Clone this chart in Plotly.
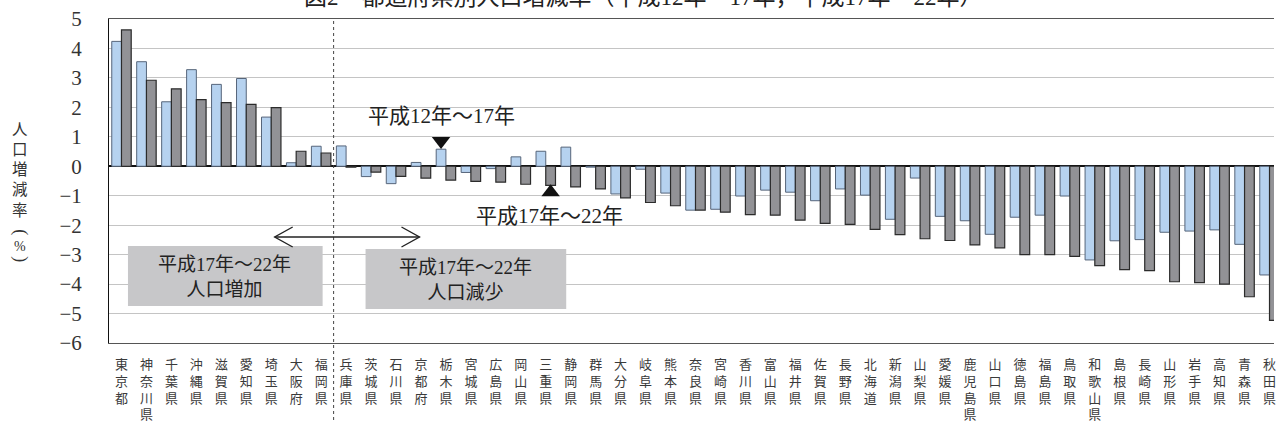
import plotly.graph_objects as go

# ---------------- data ----------------
prefectures = ["東京都", "神奈川県", "千葉県", "沖縄県", "滋賀県", "愛知県", "埼玉県", "大阪府", "福岡県",
               "兵庫県", "茨城県", "石川県", "京都府", "栃木県", "宮城県", "広島県", "岡山県", "三重県",
               "静岡県", "群馬県", "大分県", "岐阜県", "熊本県", "奈良県", "宮崎県", "香川県", "富山県",
               "福井県", "佐賀県", "長野県", "北海道", "新潟県", "山梨県", "愛媛県", "鹿児島県", "山口県",
               "徳島県", "福島県", "鳥取県", "和歌山県", "島根県", "長崎県", "山形県", "岩手県", "高知県",
               "青森県", "秋田県"]

rate_h12_17 = [4.24, 3.55, 2.19, 3.28, 2.78, 2.98, 1.67, 0.12, 0.68,
               0.69, -0.35, -0.59, 0.13, 0.58, -0.21, -0.08, 0.32, 0.51,
               0.65, -0.03, -0.94, -0.10, -0.91, -1.49, -1.46, -1.01, -0.81,
               -0.88, -1.17, -0.77, -0.98, -1.80, -0.40, -1.70, -1.85, -2.31,
               -1.73, -1.66, -1.01, -3.18, -2.53, -2.49, -2.24, -2.20, -2.16,
               -2.65, -3.69]

rate_h17_22 = [4.63, 2.92, 2.63, 2.26, 2.16, 2.10, 1.99, 0.51, 0.45,
               -0.03, -0.20, -0.34, -0.40, -0.47, -0.51, -0.54, -0.61, -0.65,
               -0.70, -0.77, -1.07, -1.23, -1.34, -1.49, -1.56, -1.64, -1.66,
               -1.83, -1.94, -1.97, -2.14, -2.32, -2.46, -2.52, -2.67, -2.77,
               -3.00, -3.00, -3.06, -3.37, -3.51, -3.54, -3.92, -3.95, -4.00,
               -4.43, -5.23]

y_ticks = [-6, -5, -4, -3, -2, -1, 0, 1, 2, 3, 4, 5]
y_tick_text = ["−6", "−5", "−4", "−3", "−2", "−1", "0", "1", "2", "3", "4", "5"]

series_names = ["平成12年～17年", "平成17年～22年"]
title_text = "図2　都道府県別人口増減率（平成12年～17年，平成17年～22年）"
y_title = "人口増減率"
box_labels = [("平成17年～22年", "人口増加"), ("平成17年～22年", "人口減少")]

# ---------------- layout constants ----------------
W, H = 1276, 427
PL, PR, PT, PB = 109, 1276, 19, 343
X0, X1 = -0.5, 46.18
Y0, Y1 = -6, 5
BARGAP = 0.22

CJK = "Noto Sans CJK JP"
MIX = "Liberation Serif, Noto Sans CJK JP"


def dx(px):
    return X0 + (px - PL) / (PR - PL) * (X1 - X0)


def dy(py):
    return Y1 - (py - PT) / (PB - PT) * (Y1 - Y0)


def paper_x(px):
    return (px - PL) / (PR - PL)


def paper_y(py):
    return (PB - py) / (PB - PT)


tick_labels = ["<br>".join(list(p)) for p in prefectures]
xs = list(range(len(prefectures)))

fig = go.Figure()
fig.add_trace(go.Bar(x=xs, y=rate_h12_17, name=series_names[0],
                     marker=dict(color="#b6d2ef", line=dict(color="#56657a", width=1))))
fig.add_trace(go.Bar(x=xs, y=rate_h17_22, name=series_names[1],
                     marker=dict(color="#929296", line=dict(color="#2b2b2b", width=1.2))))

# pointer triangles, placed from the data
half = (1 - BARGAP) / 4
i_toch = prefectures.index("栃木県")
i_mie = prefectures.index("三重県")
fig.add_trace(go.Scatter(x=[i_toch - half], y=[rate_h12_17[i_toch] + 0.28], mode="markers",
                         marker=dict(symbol="triangle-down", size=16, color="#111"),
                         showlegend=False, hoverinfo="skip"))
fig.add_trace(go.Scatter(x=[i_mie + half], y=[rate_h17_22[i_mie] - 0.23], mode="markers",
                         marker=dict(symbol="triangle-up", size=16, color="#111"),
                         showlegend=False, hoverinfo="skip"))

shapes = []
# divider between increase / decrease groups
shapes.append(dict(type="line", xref="x", yref="paper", x0=8.5, x1=8.5,
                   y0=paper_y(420), y1=1, line=dict(color="#444", width=1, dash="dot"), layer="above"))
# grey boxes
for (x0, y0, x1, y1) in [(128, 246, 323, 306), (366, 249, 567, 309)]:
    shapes.append(dict(type="rect", xref="x", yref="y", x0=dx(x0), x1=dx(x1), y0=dy(y1), y1=dy(y0),
                       fillcolor="#c7c7c9", line=dict(width=0), layer="above"))
# double arrow
ay = 237
arrow_line = dict(color="#222", width=1.4)
shapes.append(dict(type="line", xref="x", yref="y", x0=dx(275), x1=dx(420), y0=dy(ay), y1=dy(ay),
                   line=arrow_line, layer="above"))
for (tip, back) in [(275, 293), (420, 402)]:
    shapes.append(dict(type="path", xref="x", yref="y",
                       path=f"M {dx(back)},{dy(ay - 10)} L {dx(tip)},{dy(ay)} L {dx(back)},{dy(ay + 10)}",
                       line=arrow_line, layer="above"))

annotations = []
# title (top half falls outside the page, as in the reference)
annotations.append(dict(text=title_text, xref="paper", yref="paper", x=paper_x(644), y=paper_y(-2),
                        xanchor="center", yanchor="middle", showarrow=False,
                        font=dict(family=MIX, size=23, color="#222")))
# y-axis title, stacked vertically
annotations.append(dict(text="<br>".join(list(y_title)), xref="paper", yref="paper",
                        x=paper_x(20), y=paper_y(130 + 2 * 19.5),
                        xanchor="center", yanchor="middle", showarrow=False,
                        font=dict(family=CJK, size=15.5, color="#333")))
annotations.append(dict(text="(", textangle=90, xref="paper", yref="paper", x=paper_x(20), y=paper_y(232.5),
                        xanchor="center", yanchor="middle", showarrow=False,
                        font=dict(family="Liberation Serif", size=18, color="#333")))
annotations.append(dict(text="%", xref="paper", yref="paper", x=paper_x(20), y=paper_y(246),
                        xanchor="center", yanchor="middle", showarrow=False,
                        font=dict(family="Liberation Serif", size=14, color="#333")))
annotations.append(dict(text=")", textangle=90, xref="paper", yref="paper", x=paper_x(20), y=paper_y(259.5),
                        xanchor="center", yanchor="middle", showarrow=False,
                        font=dict(family="Liberation Serif", size=18, color="#333")))
# series pointers labels
annotations.append(dict(text=series_names[0], xref="x", yref="y", x=dx(442), y=dy(116),
                        showarrow=False, font=dict(family=MIX, size=21, color="#222")))
annotations.append(dict(text=series_names[1], xref="x", yref="y", x=dx(550), y=dy(216),
                        showarrow=False, font=dict(family=MIX, size=21, color="#222")))
# box texts
for cx, cy, (l1, l2) in zip([225, 466], [277, 280], box_labels):
    annotations.append(dict(text=l1 + "<br>" + l2, xref="x", yref="y", x=dx(cx), y=dy(cy), showarrow=False,
                            font=dict(family=MIX, size=19, color="#222")))

fig.update_layout(
    width=W, height=H,
    margin=dict(l=PL, r=W - PR, t=PT, b=H - PB, pad=0),
    paper_bgcolor="white", plot_bgcolor="white",
    barmode="group", bargap=BARGAP, bargroupgap=0,
    showlegend=False,
    shapes=shapes, annotations=annotations,
    xaxis=dict(range=[X0, X1], tickmode="array", tickvals=xs, ticktext=tick_labels,
               tickfont=dict(family=CJK, size=13, color="#3a3a3a"), tickangle=0,
               showgrid=False, zeroline=False, showline=True, linecolor="#555", linewidth=1.2,
               mirror=True, ticks="", ticklabelstandoff=9, ticklabeloverflow="allow"),
    yaxis=dict(range=[Y0, Y1], tickmode="array", tickvals=y_ticks, ticktext=y_tick_text,
               tickfont=dict(family="Liberation Serif", size=21, color="#333"),
               showgrid=True, gridcolor="#c4c4c4", gridwidth=1,
               zeroline=True, zerolinecolor="#111", zerolinewidth=1.5,
               showline=True, linecolor="#111", linewidth=1, ticks="", ticklabelstandoff=22),
)

fig.write_html("out.html", config={"displayModeBar": False},
               post_script="document.body.style.margin='0';document.body.style.overflow='hidden';")
